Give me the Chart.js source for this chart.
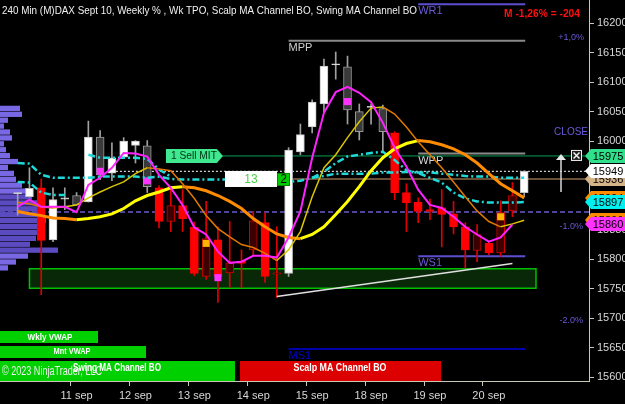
<!DOCTYPE html>
<html>
<head>
<meta charset="utf-8">
<script src="https://cdn.jsdelivr.net/npm/chart.js@4.4.0/dist/chart.umd.min.js"></script>
<style>
  html, body { margin: 0; padding: 0; background: #000; }
  canvas { display: block; }
</style>
</head>
<body>
<canvas id="grafico" width="625" height="404"></canvas>
<script>
// 240 min bars, one session label per bar
const barDays = [
  '8 sep', '8 sep', '8 sep', '8 sep', '8 sep',
  '11 sep', '11 sep', '11 sep', '11 sep', '11 sep',
  '12 sep', '12 sep', '12 sep', '12 sep', '12 sep',
  '13 sep', '13 sep', '13 sep', '13 sep', '13 sep',
  '14 sep', '14 sep', '14 sep', '14 sep', '14 sep',
  '15 sep', '15 sep', '15 sep', '15 sep', '15 sep',
  '18 sep', '18 sep', '18 sep', '18 sep', '18 sep',
  '19 sep', '19 sep', '19 sep', '19 sep', '19 sep',
  '20 sep', '20 sep', '20 sep', '20 sep'
]

const opens  = [15911, 15906, 15921, 15833, 15902, 15908, 15897, 16007, 15946, 15973, 15993, 15992, 15921, 15864, 15891, 15854, 15771, 15833, 15777, 15797, 15816, 15862, 15775, 15776, 15982, 16024, 16063, 16129, 16126, 16050, 16057, 16055, 16014, 15913, 15897, 15884, 15887, 15877, 15855, 15815, 15827, 15811, 15882, 15913]
const highs  = [15913, 15955, 15936, 15921, 15921, 15913, 16034, 16018, 15997, 16006, 16001, 16001, 15925, 15918, 15918, 15863, 15898, 15855, 15864, 15816, 15881, 15879, 15855, 15989, 16029, 16070, 16139, 16151, 16144, 16063, 16063, 16061, 16016, 15928, 15904, 15902, 15918, 15898, 15862, 15859, 15830, 15899, 15930, 15950]
const lows   = [15875, 15905, 15740, 15830, 15884, 15892, 15897, 15935, 15933, 15973, 15963, 15913, 15853, 15847, 15847, 15772, 15766, 15727, 15752, 15752, 15806, 15761, 15735, 15771, 15977, 16014, 16050, 16105, 16029, 16002, 16029, 15982, 15901, 15847, 15862, 15867, 15821, 15843, 15785, 15796, 15808, 15805, 15872, 15906]
const closes = [15913, 15920, 15832, 15901, 15904, 15892, 16007, 15943, 15972, 16000, 16000, 15923, 15864, 15891, 15869, 15776, 15835, 15771, 15794, 15793, 15865, 15771, 15777, 15985, 16011, 16066, 16127, 16131, 16053, 16016, 16059, 16016, 15913, 15896, 15881, 15881, 15876, 15855, 15816, 15842, 15811, 15879, 15908, 15949]
// 1 = swing channel up, -1 = down
const trend  = [1, 1, -1, 1, 1, 1, 1, 1, 1, 1, 1, 1, -1, -1, -1, -1, -1, -1, -1, -1, -1, -1, -1, 1, 1, 1, 1, 1, 1, 1, 1, 1, -1, -1, -1, -1, -1, -1, -1, -1, -1, -1, -1, 1]

const fastMA = [15889, 15901, 15889, 15889, 15889, 15880, 15926, 15938, 15955, 15980, 15979, 15974, 15943, 15921, 15892, 15854, 15842, 15813, 15794, 15796, 15806, 15806, 15803, 15837, 15881, 15972, 16048, 16083, 16092, 16082, 16066, 16031, 15989, 15957, 15918, 15892, 15887, 15872, 15855, 15842, 15830, 15837, 15859, null]
const midMA  = [15896, 15894, 15889, 15887, 15889, 15892, 15904, 15914, 15923, 15931, 15945, 15955, 15953, 15950, 15928, 15903, 15874, 15852, 15838, 15825, 15820, 15810, 15798, 15816, 15847, 15906, 15955, 15977, 16006, 16033, 16056, 16058, 16046, 16024, 15999, 15977, 15955, 15931, 15906, 15882, 15864, 15855, 15860, 15866]
const slowMA = [15881, 15877, 15874, 15870, 15869, 15867, 15869, 15872, 15877, 15886, 15899, 15908, 15914, 15921, 15923, 15921, 15916, 15908, 15898, 15886, 15869, 15855, 15843, 15837, 15835, 15842, 15855, 15876, 15898, 15923, 15950, 15972, 15987, 15996, 16001, 15999, 15994, 15987, 15977, 15963, 15945, 15928, 15916, 15904]
const chanA  = [15963, 15962, 15943, 15938, 15938, 15938, 15938, 15940, 15940, 15940, 15940, 15938, 15940, 15936, 15935, 15935, 15935, 15935, 15935, 15935, 15935, 15933, 15931, 15931, 15933, 15938, 15941, 15945, 15945, 15945, 15945, 15947, 15947, 15948, 15947, 15947, 15945, 15943, 15941, 15940, 15940, 15938, 15938, 15938]
const chanB  = [15931, 15930, 15913, 15909, 15909, null, 15977, 15972, 15972, 15972, 15972, 15970, 15952, 15940, null, null, null, null, null, null, null, null, null, null, null, 15938, 15948, 15963, 15974, 15977, 15980, 15982, 15968, 15951, 15946, 15938, 15930, 15913, 15903, 15898, 15896, 15896, 15896, 15897]

// signal squares
const sigBarsM = [7, 11, 17, 28]
const sigPricesM = [15949, 15933, 15769, 16067]
const sigBarsO = [16, 41]
const sigPricesO = [15827, 15872]

// trend line
const tlBars = [22, 42]
const tlPrices = [15737, 15793]

// weekly TPO profile
const tpoPrices = [16055, 16045, 16035, 16025, 16015, 16005, 15995, 15985, 15975, 15965, 15955, 15945, 15935, 15925, 15915, 15905, 15895, 15885, 15875, 15865, 15855, 15845, 15835, 15825, 15815, 15805, 15795, 15785]
const tpoCounts = [10, 11, 4, 2, 5, 6, 2, 3, 5, 9, 4, 7, 8, 11, 13, 16, 19, 20, 22, 23, 21, 20, 18, 15, 29, 14, 8, 4]
const valueAreaHigh = 15905, valueAreaLow = 15815

// pivots
const pivotNames  = ['WR1', 'MPP', 'WPP', 'WS1', 'MS1']
const pivotPrices = [16232, 16170, 15979, 15805, 15648]
const pivotFrom   = [34, 23, 34, 34, 23]

const boxHigh = 15784, boxLow = 15751
const weekCloseLevel = 15880
const orderPrice = 15975
const lastPrice = 15949
const entryPrice = 15936

const tagPrices = [15904, 15897, 15866, 15860, 15936, 15949, 15975]
const tagColors = ['#ff8c00', '#00f0f0', '#ff8c00', '#ff33ff', '#d6b48a', '#ffffff', '#30e08a']

const pad = (arr) => [null, ...arr, null, null, null, null, null]
const labels = ['', ...barDays, '', '', '', '', '']

const bodyFill = closes.map((c, i) => trend[i] > 0 ? (c >= opens[i] ? '#ffffff' : '#3a3a3a') : (c < opens[i] ? '#ff0000' : '#3c0000'))
const bodyLine = closes.map((c, i) => trend[i] > 0 ? (c >= opens[i] ? '#c0c0c0' : '#9a9a9a') : (c < opens[i] ? '#ff0000' : '#d00000'))
const wickColor = trend.map(t => t > 0 ? '#a0a0a0' : '#e00000')

const sparse = (bars, prices) => {
    let out = barDays.map(() => null)
    for (let i = 0; i < bars.length; i++) out[bars[i]] = prices[i]
    return pad(out)
}

const slopeColor = (up, down) => (c) => c.p1.parsed.y >= c.p0.parsed.y ? up : down

const overlay = {
    id: 'overlay',
    beforeDraw(chart) {
        const ctx = chart.ctx
        ctx.save()
        ctx.fillStyle = '#000'
        ctx.fillRect(0, 0, chart.width, chart.height)
        ctx.restore()
    },
    beforeDatasetsDraw(chart) {
        const { ctx, chartArea: a, scales: { x, y } } = chart
        const px = j => x.getPixelForValue(j + 1)
        const py = p => y.getPixelForValue(p)
        ctx.save()

        // green zone
        ctx.fillStyle = '#082808'
        ctx.strokeStyle = '#00c000'
        ctx.lineWidth = 1.5
        ctx.fillRect(px(1), py(boxHigh), px(44) - px(1), py(boxLow) - py(boxHigh))
        ctx.strokeRect(px(1), py(boxHigh), px(44) - px(1), py(boxLow) - py(boxHigh))

        // weekly % dashed level
        ctx.strokeStyle = '#6a5acd'
        ctx.lineWidth = 1.5
        ctx.setLineDash([5, 3])
        ctx.beginPath()
        ctx.moveTo(a.left, py(weekCloseLevel))
        ctx.lineTo(a.right, py(weekCloseLevel))
        ctx.stroke()
        ctx.setLineDash([])

        // pivots
        const pivColors = ['#5b4fd0', '#8a8a8a', '#8a8a8a', '#5b4fd0', '#0000a8']
        const pivText = ['#6a5ad8', '#d0d0d0', '#d8d8d8', '#6a5ad8', '#0000d0']
        ctx.font = '11px Arial'
        ctx.textAlign = 'left'
        ctx.textBaseline = 'middle'
        for (let i = 0; i < pivotNames.length; i++) {
            const yy = py(pivotPrices[i])
            ctx.strokeStyle = pivColors[i]
            ctx.lineWidth = 2
            ctx.beginPath()
            ctx.moveTo(px(pivotFrom[i]), yy)
            ctx.lineTo(px(43) + 1, yy)
            ctx.stroke()
            ctx.fillStyle = pivText[i]
            ctx.fillText(pivotNames[i], px(pivotFrom[i]), yy + 7)
        }

        // order line, last price, entry
        ctx.lineWidth = 1
        ctx.strokeStyle = '#00a050'
        ctx.beginPath()
        ctx.moveTo(px(12.5) + 50, py(orderPrice))
        ctx.lineTo(a.right, py(orderPrice))
        ctx.stroke()

        ctx.strokeStyle = '#ffffff'
        ctx.setLineDash([2, 2])
        ctx.beginPath()
        ctx.moveTo(px(8), py(lastPrice))
        ctx.lineTo(a.right, py(lastPrice))
        ctx.stroke()
        ctx.setLineDash([])

        ctx.strokeStyle = '#8b6b4a'
        ctx.lineWidth = 1.5
        ctx.beginPath()
        ctx.moveTo(px(22), py(entryPrice))
        ctx.lineTo(a.right, py(entryPrice))
        ctx.stroke()

        // TPO profile
        for (let i = 0; i < tpoPrices.length; i++) {
            const y0 = py(tpoPrices[i] + 5), y1 = py(tpoPrices[i] - 5)
            const inVA = tpoPrices[i] <= valueAreaHigh && tpoPrices[i] >= valueAreaLow
            ctx.fillStyle = inVA ? '#5a4cc0' : '#7868e4'
            ctx.fillRect(a.left, y0, tpoCounts[i] * 2, y1 - y0 - 0.6)
        }
        ctx.restore()
    },
    afterDatasetsDraw(chart) {
        const { ctx, scales: { x, y } } = chart
        const px = j => x.getPixelForValue(j + 1)
        const py = p => y.getPixelForValue(p)
        ctx.save()

        // 1 Sell MIT
        const oy = py(orderPrice)
        const l = px(12.5) + 1
        ctx.fillStyle = '#40e890'
        ctx.beginPath()
        ctx.moveTo(l, oy - 7)
        ctx.lineTo(l + 51, oy - 7)
        ctx.lineTo(l + 57, oy)
        ctx.lineTo(l + 51, oy + 7)
        ctx.lineTo(l, oy + 7)
        ctx.closePath()
        ctx.fill()
        ctx.fillStyle = '#003010'
        ctx.font = '11px Arial'
        ctx.textAlign = 'left'
        ctx.textBaseline = 'middle'
        ctx.fillText('1 Sell MIT', l + 5, oy + 0.5, 46)

        // position box
        const ey = py(entryPrice)
        ctx.fillStyle = '#ffffff'
        ctx.fillRect(225, ey - 8, 52, 16)
        ctx.fillStyle = '#4ad04a'
        ctx.textAlign = 'center'
        ctx.font = '12px Arial'
        ctx.fillText('13', 251, ey + 0.5)
        ctx.fillStyle = '#00cc00'
        ctx.fillRect(277, ey - 6, 13, 13)
        ctx.strokeStyle = '#008800'
        ctx.strokeRect(277.5, ey - 5.5, 12, 12)
        ctx.fillStyle = '#000'
        ctx.fillText('2', 283.5, ey + 1)

        // X button and arrow
        ctx.strokeStyle = '#f0f0f0'
        ctx.fillStyle = '#202020'
        ctx.lineWidth = 1
        ctx.fillRect(571, oy - 6, 11, 11)
        ctx.strokeRect(571.5, oy - 5.5, 10, 10)
        ctx.beginPath()
        ctx.moveTo(573.5, oy - 3.5); ctx.lineTo(579.5, oy + 2.5)
        ctx.moveTo(579.5, oy - 3.5); ctx.lineTo(573.5, oy + 2.5)
        ctx.lineWidth = 1.5
        ctx.stroke()

        ctx.strokeStyle = '#d8d8d8'
        ctx.fillStyle = '#e8e8e8'
        ctx.lineWidth = 1.5
        ctx.beginPath()
        ctx.moveTo(561, py(15914))
        ctx.lineTo(561, oy + 3)
        ctx.stroke()
        ctx.beginPath()
        ctx.moveTo(561, oy - 2)
        ctx.lineTo(556, oy + 4)
        ctx.lineTo(566, oy + 4)
        ctx.closePath()
        ctx.fill()

        // weekly % labels
        ctx.fillStyle = '#6a5ad8'
        ctx.textAlign = 'right'
        ctx.font = '9px Arial'
        ctx.fillText('+1,0%', 584, 38)
        ctx.fillText('-1.0%', 583, 227)
        ctx.fillText('-2.0%', 583, 321)
        ctx.font = '10px Arial'
        ctx.fillText('CLOSE', 588, 132)
        ctx.restore()
    },
    afterDraw(chart) {
        const { ctx, scales: { y } } = chart
        const py = p => y.getPixelForValue(p)
        ctx.save()

        // price tags on the axis
        for (let i = 0; i < tagPrices.length; i++) {
            const yy = Math.round(py(tagPrices[i]))
            ctx.beginPath()
            ctx.moveTo(585, yy)
            ctx.lineTo(591, yy - 7)
            ctx.lineTo(625, yy - 7)
            ctx.lineTo(625, yy + 7)
            ctx.lineTo(591, yy + 7)
            ctx.closePath()
            ctx.fillStyle = tagColors[i]
            ctx.fill()
            ctx.fillStyle = '#000'
            ctx.font = '11px Arial'
            ctx.textAlign = 'center'
            ctx.textBaseline = 'middle'
            ctx.fillText(String(tagPrices[i]), 608, yy + 0.5)
        }

        // header texts
        ctx.textAlign = 'left'
        ctx.fillStyle = '#f0f0f0'
        ctx.font = '11px Arial'
        ctx.fillText('240 Min (M)DAX Sept 10, Weekly % , Wk TPO, Scalp MA Channel BO, Swing MA Channel BO', 2, 11, 415)
        ctx.fillStyle = '#ff1010'
        ctx.font = 'bold 11px Arial'
        ctx.fillText('M -1,26% = -204', 504, 14, 76)

        // buttons
        ctx.fillStyle = '#00d000'
        ctx.fillRect(0, 331, 98, 12)
        ctx.fillRect(0, 346, 146, 12)
        ctx.fillRect(0, 361, 235, 20)
        ctx.fillStyle = '#dd0000'
        ctx.fillRect(240, 361, 201, 20)
        ctx.fillStyle = '#ffffff'
        ctx.textAlign = 'center'
        ctx.font = 'bold 9px Arial'
        ctx.fillText('Wkly VWAP', 50, 337.5, 45)
        ctx.fillText('Mnt VWAP', 72, 352, 37)
        ctx.font = 'bold 11px Arial'
        ctx.fillText('Swing MA Channel BO', 117, 367.5, 88)
        ctx.fillText('Scalp MA Channel BO', 340, 367.5, 93)
        ctx.textAlign = 'left'
        ctx.font = '12px Arial'
        ctx.fillStyle = '#f0f0f0'
        ctx.fillText('\u00a9 2023 NinjaTrader, LLC', 2, 372, 100)
        ctx.restore()
    }
}

const data = {
    labels: labels,
    datasets: [
        {
            type: 'line', label: 'fast', data: pad(fastMA),
            borderColor: '#ff22ff', borderWidth: 2, pointRadius: 0, order: 2
        },
        {
            type: 'line', label: 'mid', data: pad(midMA),
            borderWidth: 1.5, pointRadius: 0, order: 3,
            borderColor: '#d8c400',
            segment: { borderColor: slopeColor('#d8c400', '#e07800') }
        },
        {
            type: 'line', label: 'slow', data: pad(slowMA),
            borderWidth: 3, pointRadius: 0, order: 4,
            borderColor: '#ffff00',
            segment: { borderColor: slopeColor('#ffff00', '#ff8c00') }
        },
        {
            type: 'line', label: 'chanA', data: pad(chanA),
            borderColor: '#20d8d8', borderWidth: 2.5, borderDash: [7, 3, 2, 3], pointRadius: 0, order: 5
        },
        {
            type: 'line', label: 'chanB', data: pad(chanB),
            borderColor: '#20d8d8', borderWidth: 2.5, borderDash: [7, 3, 2, 3], pointRadius: 0, order: 5
        },
        {
            type: 'line', label: 'trendline', data: sparse(tlBars, tlPrices), spanGaps: true,
            borderColor: '#e0e0e0', borderWidth: 1.5, pointRadius: 0, order: 6
        },
        {
            type: 'line', label: 'sigM', data: sparse(sigBarsM, sigPricesM), showLine: false,
            pointStyle: 'rect', pointRadius: 5, pointBorderWidth: 0, backgroundColor: '#ff33ff', order: 7
        },
        {
            type: 'line', label: 'sigO', data: sparse(sigBarsO, sigPricesO), showLine: false,
            pointStyle: 'rect', pointRadius: 5, pointBorderWidth: 0, backgroundColor: '#ffb400', order: 7
        },
        {
            type: 'bar', label: 'body',
            data: pad(opens.map((o, i) => [Math.min(o, closes[i]), Math.max(o, closes[i], Math.min(o, closes[i]) + 1.6)])),
            backgroundColor: pad(bodyFill), borderColor: pad(bodyLine), borderWidth: 1,
            borderSkipped: false, barThickness: 8, grouped: false, order: 8
        },
        {
            type: 'bar', label: 'wick',
            data: pad(lows.map((l, i) => [l, highs[i]])),
            backgroundColor: pad(wickColor), barThickness: 1, grouped: false, order: 9
        }
    ]
}

const config = {
    type: 'bar',
    data: data,
    options: {
        responsive: false,
        animation: false,
        layout: { padding: 0, autoPadding: false },
        plugins: { legend: { display: false }, tooltip: { enabled: false } },
        scales: {
            x: {
                type: 'category',
                offset: true,
                border: { color: '#c8c8b4' },
                grid: {
                    drawOnChartArea: false, tickLength: 5,
                    tickColor: (c) => (c.tick && c.tick.label) ? '#c8c8b4' : 'rgba(0,0,0,0)'
                },
                ticks: {
                    autoSkip: false, maxRotation: 0, padding: 3,
                    color: '#d8d8d8', font: { family: 'Arial', size: 11 },
                    callback: function (value, index) {
                        const lab = this.getLabelForValue(value)
                        const prev = index > 0 ? this.getLabelForValue(value - 1) : ''
                        return (prev && lab && lab !== prev) ? lab : ''
                    }
                },
                afterFit: (s) => { s.height = 23; s.paddingLeft = 0; s.paddingRight = 0 }
            },
            y: {
                position: 'right',
                min: 15594,
                max: 16239,
                border: { color: '#c8c8b4' },
                grid: { drawOnChartArea: false, tickLength: 5, tickColor: '#c8c8b4' },
                ticks: {
                    stepSize: 50, includeBounds: false, padding: 3,
                    color: '#d8d8d8', font: { family: 'Arial', size: 11 },
                    callback: (v) => String(v)
                },
                afterFit: (s) => { s.width = 36; s.paddingTop = 0; s.paddingBottom = 0 }
            }
        }
    },
    plugins: [overlay]
}

const myChart = new Chart(document.getElementById('grafico'), config)
</script>
</body>
</html>
